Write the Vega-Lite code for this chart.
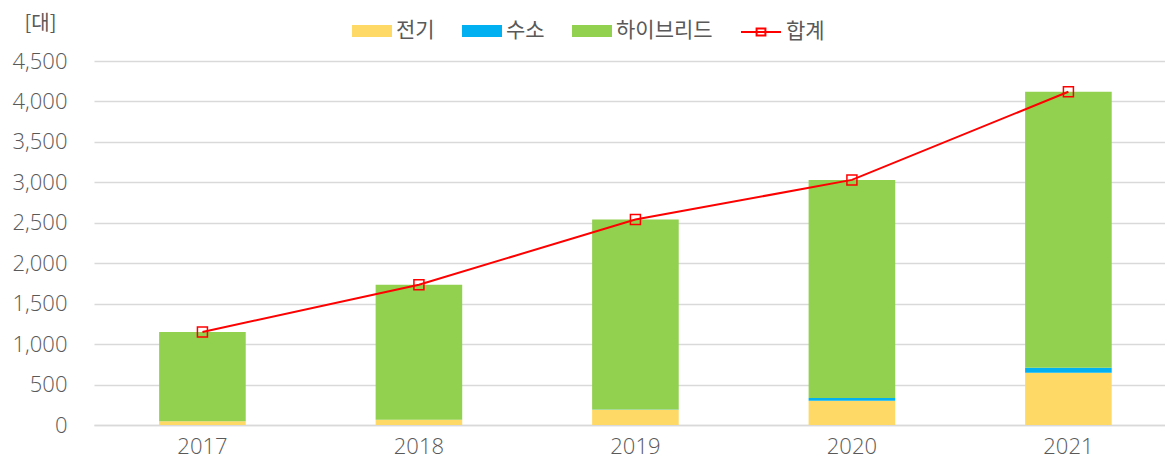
{
  "$schema": "https://vega.github.io/schema/vega-lite/v6.json",
  "autosize": {"type": "none"},
  "padding": {"left": 94, "top": 61, "right": 0, "bottom": 34},
  "width": 1071,
  "height": 364,
  "background": "white",
  "config": {
    "view": {"stroke": null},
    "font": "Noto Sans CJK KR",
    "axis": {"labelFont": "Open Sans", "titleFont": "Noto Sans CJK KR", "labelFontWeight": 300},
    "legend": {"labelFont": "Noto Sans CJK KR"}
  },
  "data": {
    "values": [
      {"year": "2017", "type": "전기", "value": 45},
      {"year": "2017", "type": "수소", "value": 0},
      {"year": "2017", "type": "하이브리드", "value": 1105},
      {"year": "2018", "type": "전기", "value": 65},
      {"year": "2018", "type": "수소", "value": 0},
      {"year": "2018", "type": "하이브리드", "value": 1670},
      {"year": "2019", "type": "전기", "value": 190},
      {"year": "2019", "type": "수소", "value": 3},
      {"year": "2019", "type": "하이브리드", "value": 2347},
      {"year": "2020", "type": "전기", "value": 300},
      {"year": "2020", "type": "수소", "value": 33},
      {"year": "2020", "type": "하이브리드", "value": 2697},
      {"year": "2021", "type": "전기", "value": 646},
      {"year": "2021", "type": "수소", "value": 62},
      {"year": "2021", "type": "하이브리드", "value": 3412}
    ]
  },
  "encoding": {
    "x": {
      "field": "year",
      "type": "ordinal",
      "scale": {"paddingInner": 0.6, "paddingOuter": 0.2735, "align": 0.55},
      "axis": {
        "title": null,
        "labelAngle": 0,
        "labelFontSize": 22,
        "labelColor": "#595959",
        "labelPadding": 11,
        "ticks": false,
        "domainColor": "#D9D9D9",
        "domainWidth": 1.5,
        "grid": false
      }
    }
  },
  "layer": [
    {
      "transform": [
        {"calculate": "indexof(['전기', '수소', '하이브리드'], datum.type)", "as": "stackOrder"}
      ],
      "mark": {"type": "bar"},
      "encoding": {
        "y": {
          "field": "value",
          "type": "quantitative",
          "aggregate": "sum",
          "stack": "zero",
          "scale": {"domain": [0, 4500], "nice": false},
          "axis": {
            "values": [0, 500, 1000, 1500, 2000, 2500, 3000, 3500, 4000, 4500],
            "format": ",.0f",
            "title": "[대]",
            "titleAngle": 0,
            "titleX": -54,
            "titleY": -38,
            "titleAlign": "center",
            "titleBaseline": "middle",
            "titleFontSize": 20,
            "titleFontWeight": "normal",
            "titleColor": "#595959",
            "labelFontSize": 22,
            "labelColor": "#595959",
            "labelPadding": 27,
            "ticks": false,
            "domain": false,
            "grid": true,
            "gridColor": "#D9D9D9",
            "gridWidth": 1.5
          }
        },
        "order": {"field": "stackOrder", "type": "quantitative", "sort": "ascending"},
        "color": {
          "field": "type",
          "type": "nominal",
          "scale": {"domain": ["전기", "수소", "하이브리드"], "range": ["#FFD966", "#00B0F0", "#92D050"]},
          "legend": {
            "title": null,
            "orient": "none",
            "direction": "horizontal",
            "legendX": 258,
            "legendY": -50,
            "symbolType": "M-1,-0.3L1,-0.3L1,0.3L-1,0.3Z",
            "symbolSize": 1600,
            "symbolStrokeWidth": 0,
            "labelFontSize": 21,
            "labelColor": "#595959",
            "labelOffset": 4,
            "columnPadding": 27
          }
        }
      }
    },
    {
      "mark": {
        "type": "line",
        "strokeWidth": 2,
        "point": {"shape": "square", "filled": false, "size": 100, "strokeWidth": 1.5}
      },
      "encoding": {
        "y": {"field": "value", "type": "quantitative", "aggregate": "sum"},
        "stroke": {
          "datum": "합계",
          "type": "nominal",
          "scale": {"domain": ["합계"], "range": ["#FF0000"]},
          "legend": {
            "title": null,
            "orient": "none",
            "legendX": 646,
            "legendY": -50,
            "symbolType": "M-1,0L1,0M-0.22,-0.17L0.22,-0.17L0.22,0.17L-0.22,0.17Z",
            "symbolSize": 1600,
            "symbolStrokeWidth": 2,
            "symbolFillColor": "transparent",
            "labelFontSize": 21,
            "labelColor": "#595959",
            "labelOffset": 4
          }
        }
      }
    }
  ]
}
